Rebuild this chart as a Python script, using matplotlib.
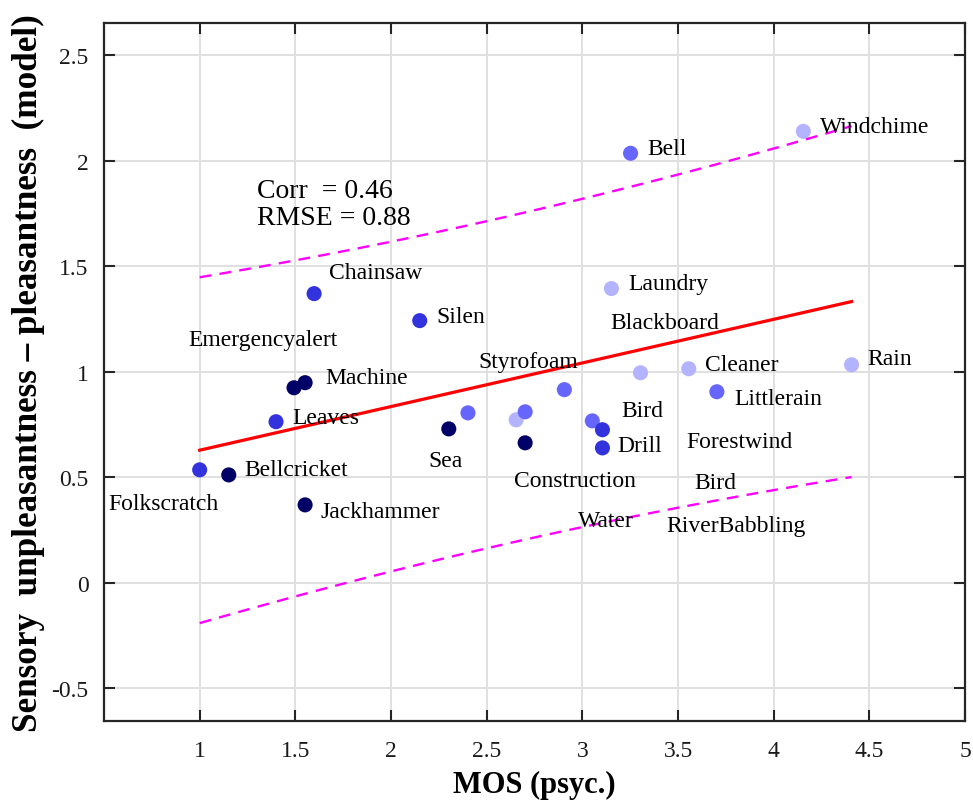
import numpy as np
import matplotlib
matplotlib.use("Agg")
import matplotlib.pyplot as plt

# ---- data ----
mos = [4.155, 3.252, 1.598, 2.150, 3.152, 1.493, 1.551, 1.399, 1.000, 1.152,
       1.551, 2.302, 2.402, 2.654, 2.701, 2.701, 2.906, 3.052, 3.105, 3.105,
       3.304, 3.556, 3.703, 4.407]
model = [2.139, 2.035, 1.370, 1.242, 1.394, 0.924, 0.948, 0.763, 0.535, 0.511,
         0.369, 0.729, 0.805, 0.772, 0.810, 0.663, 0.915, 0.767, 0.725, 0.639,
         0.995, 1.014, 0.905, 1.033]
# shade group of each point (0 darkest ... 3 lightest)
shade = [3, 2, 1, 1, 3, 0, 0, 1, 1, 0,
         0, 0, 2, 3, 2, 0, 2, 2, 1, 1,
         3, 3, 2, 3]
shade_colors = ["#000066", "#3333dd", "#6666ff", "#b3b3ff"]

names = ["Windchime", "Bell", "Chainsaw", "Silen", "Laundry", "Emergencyalert",
         "Blackboard", "Machine", "Styrofoam", "Cleaner", "Rain", "Leaves",
         "Littlerain", "Bird", "Sea", "Drill", "Forestwind", "Bellcricket",
         "Construction", "Bird", "Folkscratch", "Jackhammer", "Water",
         "RiverBabbling"]
# label anchor positions (left edge, vertical centre) in data units
name_x = [4.244, 3.341, 1.677, 2.239, 3.241, 0.942, 3.147, 1.656, 2.454, 3.640,
          4.491, 1.483, 3.793, 3.205, 2.197, 3.184, 3.546, 1.236, 2.643, 3.583,
          0.522, 1.630, 2.979, 3.441]
name_y = [2.163, 2.058, 1.470, 1.261, 1.418, 1.152, 1.233, 0.972, 1.047, 1.033,
          1.062, 0.782, 0.872, 0.815, 0.578, 0.649, 0.668, 0.535, 0.483, 0.473,
          0.374, 0.336, 0.293, 0.269]

corr_text = "Corr  = 0.46\nRMSE = 0.88"
xticks = [1, 1.5, 2, 2.5, 3, 3.5, 4, 4.5, 5]
yticks = [-0.5, 0, 0.5, 1, 1.5, 2, 2.5]

# ---- figure ----
plt.rcParams["font.family"] = ["Liberation Serif", "DejaVu Serif"]
fig = plt.figure(figsize=(9.73, 8.03), dpi=100)
ax = fig.add_axes([0.1069, 0.1009, 0.8849, 0.8686])

ax.grid(True, color="#e0e0e0", linewidth=1.4, zorder=0)
ax.set_axisbelow(True)

x = np.array(mos)
y = np.array(model)
cols = [shade_colors[s] for s in shade]
ax.scatter(x, y, s=118, c=cols, edgecolors="none", zorder=3)

# least-squares fit and prediction band
p = np.polyfit(x, y, 1)
xf = np.linspace(x.min(), x.max(), 100)
yf = np.polyval(p, xf)
res = y - np.polyval(p, x)
n = len(x)
s = np.sqrt(np.sum(res ** 2) / (n - 2))
sxx = np.sum((x - x.mean()) ** 2)
hw = 1.96 * s * np.sqrt(1 + 1 / n + (xf - x.mean()) ** 2 / sxx)
ax.plot(xf, yf, color="red", linewidth=2.3, zorder=4)
ax.plot(xf, yf + hw, color="magenta", linewidth=1.7, linestyle=(0, (5, 3.5)), zorder=4)
ax.plot(xf, yf - hw, color="magenta", linewidth=1.7, linestyle=(0, (5, 3.5)), zorder=4)

for nm, tx, ty in zip(names, name_x, name_y):
    ax.text(tx, ty, nm, fontsize=17, ha="left", va="center", zorder=5)

ax.text(1.299, 1.795, corr_text, fontsize=20, ha="left", va="center",
        linespacing=1.15, zorder=5)

ax.set_xlim(0.5, 5.0)
ax.set_ylim(-0.655, 2.65)
ax.set_xticks(xticks)
ax.set_xticklabels([f"{t:g}" for t in xticks])
ax.set_yticks(yticks)
ax.set_yticklabels([f"{t:g}" for t in yticks])
ax.tick_params(direction="in", length=8, width=1.5, colors="#262626",
               labelcolor="#1a1a1a", labelsize=17, pad=11, top=True, right=True)
ax.tick_params(axis="x", pad=14)
for sp in ax.spines.values():
    sp.set_linewidth(1.6)
    sp.set_color("#262626")

ax.set_xlabel("MOS (psyc.)", fontsize=22, fontweight="bold", labelpad=6)
ax.set_ylabel("Sensory  unpleasantness – pleasantness  (model)", fontsize=25.3,
              fontweight="bold", labelpad=5)

fig.savefig("out.png", dpi=100)
